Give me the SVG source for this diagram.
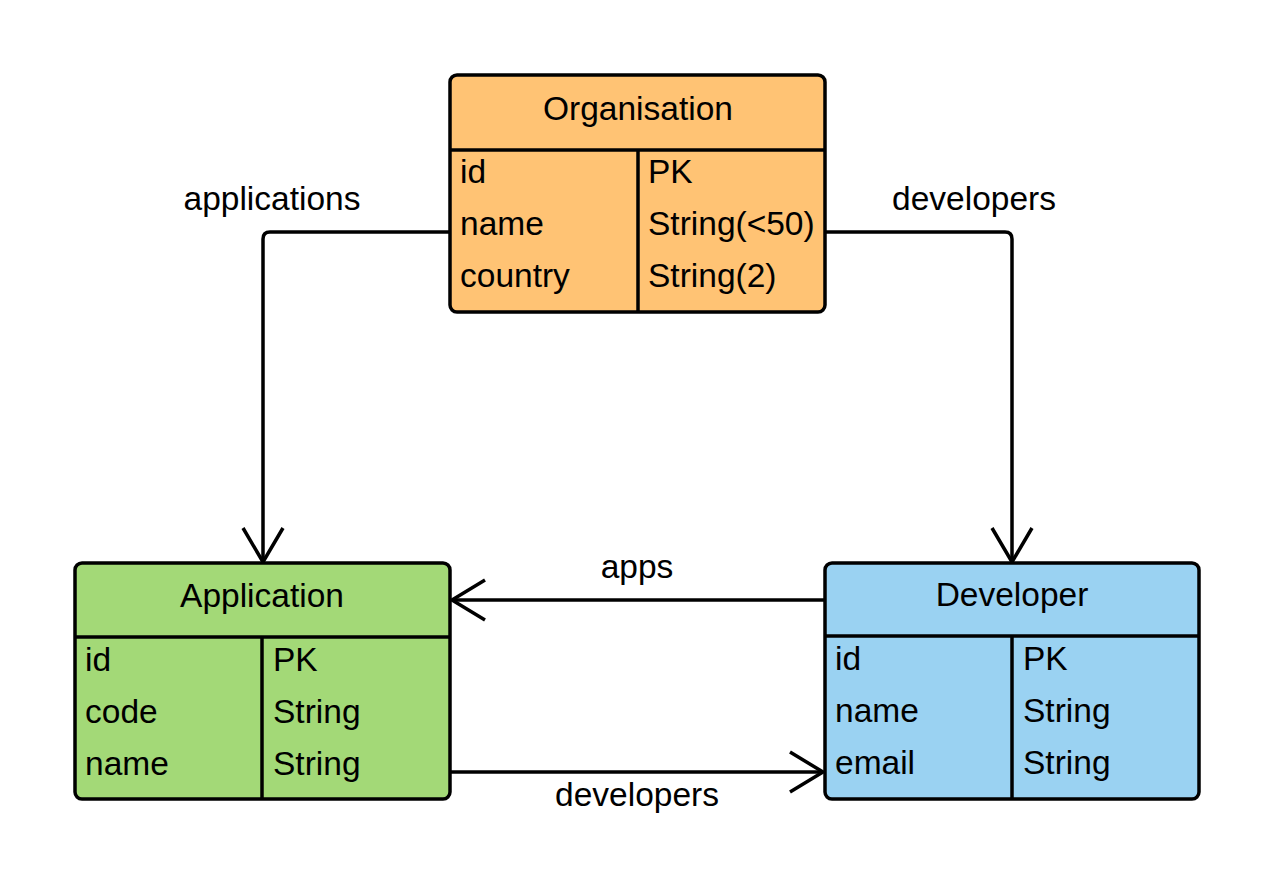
<svg xmlns="http://www.w3.org/2000/svg" width="1275" height="896" viewBox="0 0 1275 896">
<style>
text{font-family:"Liberation Sans",Arial,sans-serif;font-size:33.5px;fill:#000}
.hd{text-anchor:middle}
.box{stroke:#000;stroke-width:3.5}
.ln{stroke:#000;stroke-width:3.5;fill:none}
.org{fill:#FFC374}
.app{fill:#A3D977}
.dev{fill:#9AD2F2}
</style>
<rect width="1275" height="896" fill="#fff"/>
<g id="connectors">
<path class="ln" d="M449,232 H270 Q263,232 263,239 V560"/>
<path class="ln" d="M243,528 L263,562 L283,528"/>
<path class="ln" d="M826,232 H1005 Q1012,232 1012,239 V560"/>
<path class="ln" d="M992,528 L1012,562 L1032,528"/>
<path class="ln" d="M824,600 H453"/>
<path class="ln" d="M485,580 L452,600 L485,620"/>
<path class="ln" d="M451,772 H822"/>
<path class="ln" d="M790,752 L823,772 L790,792"/>
<text class="hd" x="272" y="210">applications</text>
<text class="hd" x="974" y="210">developers</text>
<text class="hd" x="637" y="578">apps</text>
<text class="hd" x="637" y="806">developers</text>
</g>
<g id="organisation">
<rect class="box org" x="450" y="75" width="375" height="237" rx="7"/>
<line class="ln" x1="450" y1="150" x2="825" y2="150"/>
<line class="ln" x1="638" y1="150" x2="638" y2="312"/>
<text class="hd" x="638" y="120">Organisation</text>
<text x="460" y="183">id</text>
<text x="460" y="235">name</text>
<text x="460" y="287">country</text>
<text x="648" y="183">PK</text>
<text x="648" y="235">String(&lt;50)</text>
<text x="648" y="287">String(2)</text>
</g>
<g id="application">
<rect class="box app" x="75" y="563" width="375" height="236" rx="7"/>
<line class="ln" x1="75" y1="637" x2="450" y2="637"/>
<line class="ln" x1="262" y1="637" x2="262" y2="799"/>
<text class="hd" x="262" y="607">Application</text>
<text x="85" y="671">id</text>
<text x="85" y="723">code</text>
<text x="85" y="775">name</text>
<text x="273" y="671">PK</text>
<text x="273" y="723">String</text>
<text x="273" y="775">String</text>
</g>
<g id="developer">
<rect class="box dev" x="825" y="563" width="374" height="236" rx="7"/>
<line class="ln" x1="825" y1="636" x2="1199" y2="636"/>
<line class="ln" x1="1012" y1="636" x2="1012" y2="799"/>
<text class="hd" x="1012" y="606">Developer</text>
<text x="835" y="670">id</text>
<text x="835" y="722">name</text>
<text x="835" y="774">email</text>
<text x="1023" y="670">PK</text>
<text x="1023" y="722">String</text>
<text x="1023" y="774">String</text>
</g>
</svg>
